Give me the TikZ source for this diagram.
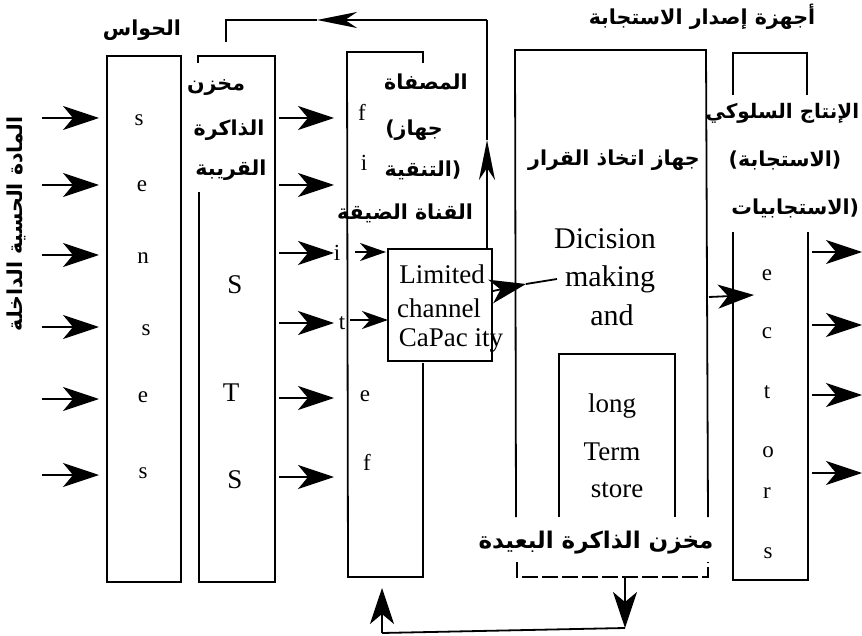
\documentclass[tikz,border=0pt]{standalone}
\usepackage{fontspec}
\setmainfont{Liberation Serif}
\newfontfamily\arfont[Script=Arabic]{DejaVu Sans}
\TeXXeTstate=1
\usetikzlibrary{arrows.meta}
\begin{document}
\begin{tikzpicture}[x=0.5pt,y=-0.5pt,line width=0.9pt,
  bigarr/.style={-{Stealth[length=18pt,width=12pt,inset=5pt]}},
  smallarr/.style={-{Stealth[length=13pt,width=9pt,inset=4pt]}},
  thinarr/.style={-{Stealth[length=20pt,width=8pt,inset=6pt]}},
  lt/.style={font=\fontsize{11.5}{12}\selectfont,inner sep=0pt},
  capl/.style={font=\fontsize{13.5}{14}\selectfont,inner sep=0pt},
  lat/.style={font=\fontsize{13.5}{15}\selectfont,inner sep=0pt},
  latb/.style={font=\fontsize{15}{16}\selectfont,inner sep=0pt},
  art/.style={font=\arfont\bfseries\fontsize{10.3}{12}\selectfont,inner sep=0pt},
  artb/.style={font=\arfont\bfseries\fontsize{11.5}{13}\selectfont,inner sep=0pt},
  dsh/.style={dash pattern=on 8pt off 2pt}]
\useasboundingbox (0,0) rectangle (862,636);

% ---------- box 1 : senses
\draw (107,56) rectangle (181,582);
\node[lt] (b1a) at (139,120) {s};
\node[lt] (b1b) at (142,186) {e};
\node[lt] (b1c) at (143,258) {n};
\node[lt] (b1d) at (146,330) {s};
\node[lt] (b1e) at (143,397) {e};
\node[lt] (b1f) at (143,473) {s};
\node[art] (senses) at (142,30) {\beginR الحواس\endR};

% ---------- box 2 : short term store
\draw (198,63) -- (198,56) -- (275,56) -- (275,582) -- (199,582) -- (199,192);
\node[capl] (b2a) at (235,285) {S};
\node[capl] (b2b) at (231,393) {T};
\node[capl] (b2c) at (235,480) {S};
\node[art] (sts1) at (216,88) {\beginR مخزن\endR};
\node[art] (sts2) at (229,130) {\beginR الذاكرة\endR};
\node[art] (sts3) at (231,170) {\beginR القريبة\endR};

% ---------- box 3 : filter
\draw (423,63) -- (423,52) -- (347,52) -- (348,577) -- (423,577) -- (423,363);
\node[lt] (b3a) at (362,112) {f};
\node[lt] (b3b) at (364,163) {i};
\node[lt] (b3c) at (337,253) {i};
\node[lt] (b3d) at (342,323) {t};
\node[lt] (b3e) at (365,396) {e};
\node[lt] (b3f) at (367,462) {f};
\node[art] (flt1) at (426,82) {\beginR المصفاة\endR};
\node[art] (flt2) at (414,130) {جهاز)};
\node[art] (flt3) at (423,170) {(التنقية};
\node[art] (flt4) at (405,213) {\beginR القناة الضيقة\endR};

% limited channel capacity
\draw (388,249) rectangle (492,361);
\node[lat] (lc1) at (442,274) {Limited};
\node[lat] (lc2) at (439,308) {channel};
\node[lat] (lc3) at (451,340) {CaPac ity};

% ---------- box 4 : decision making
\draw (516,517) -- (515,50) -- (706,50) -- (708,517);
\node[art] (dm) at (614,160) {\beginR جهاز اتخاذ القرار\endR};
\node[latb] (dm1) at (605,239) {Dicision};
\node[latb] (dm2) at (610,279) {making};
\node[latb] (dm3) at (612,315) {and};
\draw (559,517) -- (559,354) -- (675,354) -- (675,517);
\node[lat] (lt1) at (612,406) {long};
\node[lat] (lt2) at (612,452) {Term};
\node[lat] (lt3) at (617,490) {store};
\node[artb] (lts) at (596,543) {\beginR مخزن الذاكرة البعيدة\endR};
\draw[dsh,line width=0.6pt] (517,562) -- (517,577) -- (708,577) -- (708,562);

% ---------- box 5 : effectors
\draw (733,95) -- (733,53) -- (807,53) -- (807,95);
\draw (733,232) -- (733,580) -- (808,580) -- (808,232);
\node[lt] (b5a) at (767,275) {e};
\node[lt] (b5b) at (767,333) {c};
\node[lt] (b5c) at (767,392) {t};
\node[lt] (b5d) at (768,452) {o};
\node[lt] (b5e) at (767,493) {r};
\node[lt] (b5f) at (768,553) {s};
\node[art] (eff) at (702,17) {\beginR أجهزة إصدار الاستجابة\endR};
\node[art,anchor=east,font=\arfont\bfseries\fontsize{10}{12}\selectfont] (out1) at (860,113) {\beginR الإنتاج السلوكي\endR};
\node[art] (out2) at (785,160) {(الاستجابة)};
\node[art,anchor=east] (out3) at (860,208) {(الاستجابيات};

% ---------- left label
\node[art,rotate=90] (input) at (16,224) {\beginR المادة الحسية الداخلة\endR};

% ---------- arrows
\foreach \y [count=\i] in {118,185,255,327,399,475} {
  \coordinate (inS\i) at (42,\y);
  \coordinate (inE\i) at (99,\y);
  \draw[bigarr] (inS\i) -- (inE\i);
}
\foreach \y [count=\i] in {118,185,253,323,398,477} {
  \coordinate (mS\i) at (279,\y);
  \coordinate (mE\i) at (334,\y);
  \draw[bigarr] (mS\i) -- (mE\i);
}
\coordinate (f1) at (355,252); \coordinate (f1e) at (386,252);
\coordinate (f2) at (350,320); \coordinate (f2e) at (388,320);
\draw[smallarr] (f1) -- (f1e);
\draw[smallarr] (f2) -- (f2e);

\coordinate (lcO) at (493,291); \coordinate (lcM) at (526,284); \coordinate (dmI) at (557,279);
\draw[bigarr] (lcO) -- (lcM);
\draw (lcM) -- (dmI);

\coordinate (dmO) at (709,297); \coordinate (efI) at (754,295);
\draw[bigarr] (dmO) -- (efI);

\foreach \y [count=\i] in {252,325,395,473} {
  \coordinate (oS\i) at (812,\y);
  \coordinate (oE\i) at (862,\y);
  \draw[bigarr] (oS\i) -- (oE\i);
}

% feedback at top
\coordinate (fb0) at (487,249);
\coordinate (fbA) at (487,140);
\coordinate (fb1) at (487,20);
\coordinate (fbB) at (317,20);
\coordinate (fb2) at (226,20);
\coordinate (fb3) at (226,42);
\draw[thinarr] (fb0) -- (fbA);
\draw (fbA) -- (fb1);
\draw[thinarr] (fb1) -- (fbB);
\draw (fbB) -- (fb2) -- (fb3);

% loop at bottom
\coordinate (lb0) at (625,577);
\coordinate (lb1) at (625,628);
\coordinate (lb2) at (382,633);
\coordinate (lb3) at (382,588);
\draw[bigarr] (lb0) -- (lb1);
\draw (lb1) -- (lb2);
\draw[bigarr] (lb2) -- (lb3);
\end{tikzpicture}
\end{document}
